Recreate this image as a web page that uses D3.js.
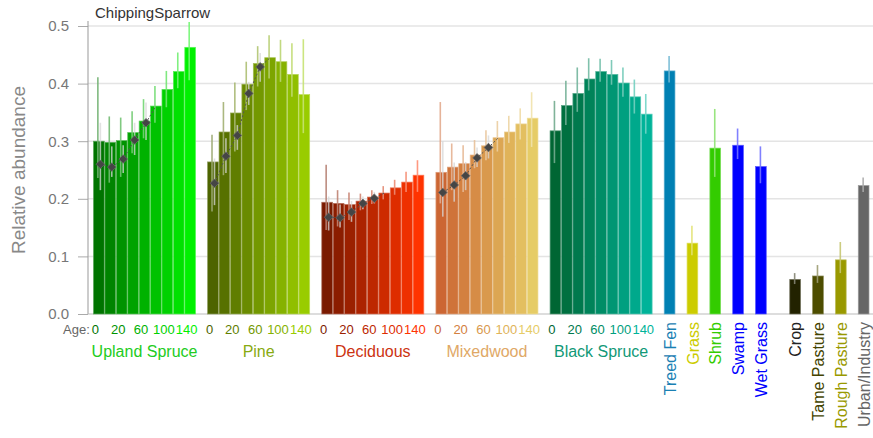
<!DOCTYPE html>
<html><head><meta charset="utf-8">
<script src="https://cdn.jsdelivr.net/npm/d3@7"></script>
<style>
html,body{margin:0;padding:0;background:#fff;}
svg{display:block;font-family:"Liberation Sans",Arial,sans-serif;}
</style></head>
<body><svg id="chart" width="873" height="438"></svg>
<script>
// ---------- data ----------
const title = "ChippingSparrow";
const yLabel = "Relative abundance";
const yTicks = [0, 0.1, 0.2, 0.3, 0.4, 0.5];
const ageLabels = ["0", "20", "60", "100", "140"];
const ageLabelBars = [0, 2, 4, 6, 8];

const forestNames = ["Upland Spruce", "Pine", "Deciduous", "Mixedwood", "Black Spruce"];

const uplandVals = [0.300, 0.298, 0.301, 0.315, 0.335, 0.361, 0.390, 0.421, 0.463];
const uplandLo   = [0.236, 0.228, 0.238, 0.279, 0.305, 0.332, 0.359, 0.392, 0.406];
const uplandHi   = [0.411, 0.343, 0.341, 0.352, 0.373, 0.396, 0.422, 0.454, 0.507];
const uplandDiam   = [0.260, 0.255, 0.269, 0.302, 0.332];
const uplandDiamLo = [0.215, 0.238, 0.245, 0.276, 0.302];
const uplandDiamHi = [0.332, 0.291, 0.293, 0.332, 0.367];

const pineVals = [0.264, 0.316, 0.349, 0.399, 0.435, 0.445, 0.438, 0.416, 0.381];
const pineLo   = [0.178, 0.241, 0.282, 0.354, 0.395, 0.409, 0.403, 0.377, 0.314];
const pineHi   = [0.311, 0.368, 0.402, 0.438, 0.465, 0.484, 0.476, 0.470, 0.477];
const pineDiam   = [0.227, 0.274, 0.310, 0.383, 0.429];
const pineDiamLo = [0.189, 0.245, 0.285, 0.363, 0.403];
const pineDiamHi = [0.270, 0.305, 0.328, 0.403, 0.453];

const decidVals = [0.194, 0.192, 0.190, 0.196, 0.203, 0.210, 0.219, 0.229, 0.241];
const decidLo   = [0.146, 0.152, 0.163, 0.180, 0.191, 0.199, 0.207, 0.212, 0.212];
const decidHi   = [0.259, 0.215, 0.211, 0.209, 0.215, 0.222, 0.233, 0.247, 0.267];
const decidDiam   = [0.168, 0.167, 0.177, 0.192, 0.201];
const decidDiamLo = [0.145, 0.150, 0.160, 0.182, 0.192];
const decidDiamHi = [0.204, 0.190, 0.196, 0.204, 0.212];

const mixedVals = [0.246, 0.255, 0.261, 0.276, 0.292, 0.306, 0.316, 0.330, 0.340];
const mixedLo   = [0.192, 0.215, 0.212, 0.253, 0.267, 0.282, 0.297, 0.303, 0.290];
const mixedHi   = [0.368, 0.296, 0.293, 0.302, 0.319, 0.335, 0.344, 0.357, 0.385];
const mixedDiam   = [0.211, 0.224, 0.240, 0.271, 0.289];
const mixedDiamLo = [0.169, 0.195, 0.215, 0.255, 0.270];
const mixedDiamHi = [0.300, 0.263, 0.264, 0.289, 0.310];

const blackVals = [0.318, 0.362, 0.383, 0.408, 0.421, 0.416, 0.401, 0.377, 0.347];
const blackLo   = [0.262, 0.328, 0.351, 0.388, 0.403, 0.398, 0.377, 0.348, 0.313];
const blackHi   = [0.370, 0.405, 0.428, 0.444, 0.443, 0.441, 0.428, 0.407, 0.382];

const otherNames = ["Treed Fen", "Grass", "Shrub", "Swamp", "Wet Grass", "Crop", "Tame Pasture", "Rough Pasture", "Urban/Industry"];
const otherVals  = [0.422, 0.123, 0.288, 0.293, 0.256, 0.060, 0.066, 0.094, 0.223];
const otherLo    = [0.402, 0.102, 0.238, 0.269, 0.227, 0.052, 0.054, 0.071, 0.212];
const otherHi    = [0.448, 0.153, 0.356, 0.322, 0.291, 0.071, 0.085, 0.125, 0.237];

// ---------- styles ----------
const forestColorEnds = [["#007400", "#00f000"], ["#4d6400", "#99cc00"], ["#7a1a00", "#ff3300"], ["#cc6633", "#e6cc66"], ["#006633", "#00b399"]];
const forestLabelColors = ["#22cc22", "#88aa11", "#cc3311", "#e0a866", "#119977"];
const otherColors = ["#0080b3", "#cccc00", "#33cc00", "#0000ff", "#0000ff", "#222200", "#4d4d00", "#999900", "#666666"];
const otherLabelColors = ["#1a80b3", "#cccc00", "#33cc00", "#0000ff", "#0000ff", "#222222", "#444400", "#999900", "#666666"];

const forests = [
  {vals: uplandVals, lo: uplandLo, hi: uplandHi, dv: uplandDiam, dlo: uplandDiamLo, dhi: uplandDiamHi},
  {vals: pineVals, lo: pineLo, hi: pineHi, dv: pineDiam, dlo: pineDiamLo, dhi: pineDiamHi},
  {vals: decidVals, lo: decidLo, hi: decidHi, dv: decidDiam, dlo: decidDiamLo, dhi: decidDiamHi},
  {vals: mixedVals, lo: mixedLo, hi: mixedHi, dv: mixedDiam, dlo: mixedDiamLo, dhi: mixedDiamHi},
  {vals: blackVals, lo: blackLo, hi: blackHi, dv: null}
];

// ---------- build slot domain (spacers between groups) ----------
const slots = [];
forests.forEach((f, gi) => {
  f.vals.forEach((v, j) => slots.push("f" + gi + "_" + j));
  slots.push("sp_f" + gi);
});
otherNames.forEach((n, i) => {
  slots.push("o" + i);
  if (i < otherNames.length - 1) slots.push("sp_o" + i);
  if (n === "Wet Grass") slots.push("sp_extra");
});

const svg = d3.select("#chart");
const x = d3.scaleBand().domain(slots).range([93.5, 869]).paddingInner(0.06).paddingOuter(0);
const y = d3.scaleLinear().domain([0, 0.5]).range([314, 26]);
const cx = k => x(k) + x.bandwidth() / 2;

// gridlines
svg.append("g").selectAll("line").data(yTicks.filter(t => t > 0)).join("line")
  .attr("x1", 88).attr("x2", 873).attr("y1", d => y(d)).attr("y2", d => y(d))
  .attr("stroke", "#e4e4e4").attr("stroke-width", 1.5);

// y axis
const yAxis = d3.axisLeft(y).tickValues(yTicks).tickFormat(d3.format(".1f")).tickSize(10).tickPadding(9);
const ga = svg.append("g").attr("transform", "translate(88,0)").call(yAxis);
ga.select(".domain").remove();
ga.selectAll(".tick line").attr("stroke", "#aaa");
ga.selectAll(".tick text").attr("fill", "#777").attr("font-size", 15).attr("font-family", "Liberation Sans, Arial, sans-serif");
svg.append("line").attr("x1", 88).attr("x2", 88).attr("y1", 21).attr("y2", y(0)).attr("stroke", "#999").attr("stroke-width", 1);
svg.append("line").attr("x1", 88).attr("x2", 873).attr("y1", y(0)).attr("y2", y(0)).attr("stroke", "#bbb").attr("stroke-width", 1);

const lighten = (c, t) => d3.interpolateRgb(c, "#ffffff")(t);

// forest groups
forests.forEach((f, gi) => {
  const g = svg.append("g");
  const cols = f.vals.map((v, j) => d3.interpolateRgb(forestColorEnds[gi][0], forestColorEnds[gi][1])(j / (f.vals.length - 1)));
  const keys = f.vals.map((v, j) => "f" + gi + "_" + j);
  g.selectAll("rect").data(f.vals).join("rect")
    .attr("x", (d, j) => x(keys[j])).attr("width", x.bandwidth())
    .attr("y", d => y(d)).attr("height", d => y(0) - y(d))
    .attr("fill", (d, j) => cols[j])
    .attr("stroke", (d, j) => lighten(cols[j], 0.35)).attr("stroke-width", 0.7);
  g.selectAll("line.err").data(f.vals).join("line").attr("class", "err")
    .attr("x1", (d, j) => cx(keys[j]) - 1).attr("x2", (d, j) => cx(keys[j]) - 1)
    .attr("y1", (d, j) => y(f.lo[j])).attr("y2", (d, j) => y(f.hi[j]))
    .attr("stroke", (d, j) => lighten(cols[j], 0.45)).attr("stroke-width", 1.6).attr("opacity", 0.9);
  if (f.dv) {
    g.selectAll("line.derr").data(f.dv).join("line").attr("class", "derr")
      .attr("x1", (d, j) => cx(keys[j]) + 1.5).attr("x2", (d, j) => cx(keys[j]) + 1.5)
      .attr("y1", (d, j) => y(f.dlo[j])).attr("y2", (d, j) => y(f.dhi[j]))
      .attr("stroke", "#d8d8d8").attr("stroke-width", 1.6).attr("opacity", 0.75);
    const pts = f.dv.map((d, j) => [cx(keys[j]) + 1.5, y(d)]);
    pts.push([cx(keys[5]), y(f.vals[5])]);
    g.append("path").attr("d", d3.line()(pts)).attr("fill", "none")
      .attr("stroke", "#555").attr("stroke-width", 1).attr("stroke-dasharray", "2,2");
    g.selectAll("path.dm").data(f.dv).join("path").attr("class", "dm")
      .attr("transform", (d, j) => `translate(${cx(keys[j]) + 1.5},${y(d)})`)
      .attr("d", "M0,-4.3L4.3,0L0,4.3L-4.3,0Z")
      .attr("fill", "#454545").attr("stroke", "#666").attr("stroke-width", 0.8);
  }
  // age labels
  g.selectAll("text.age").data(ageLabels).join("text").attr("class", "age")
    .attr("x", (d, k) => cx(keys[ageLabelBars[k]]) - 3.5).attr("y", 334)
    .attr("text-anchor", "middle").attr("font-size", 13)
    .attr("fill", (d, k) => cols[ageLabelBars[k]]).text(d => d);
  // group label
  g.append("text").attr("x", (cx(keys[0]) + cx(keys[8])) / 2).attr("y", 357)
    .attr("text-anchor", "middle").attr("font-size", 16).attr("fill", forestLabelColors[gi])
    .text(forestNames[gi]);
});

svg.append("text").attr("x", 63).attr("y", 334).attr("font-size", 13).attr("fill", "#666").text("Age:");

// other categories
const og = svg.append("g");
const okeys = otherNames.map((n, i) => "o" + i);
og.selectAll("rect").data(otherVals).join("rect")
  .attr("x", (d, i) => x(okeys[i])).attr("width", x.bandwidth())
  .attr("y", d => y(d)).attr("height", d => y(0) - y(d))
  .attr("fill", (d, i) => otherColors[i])
  .attr("stroke", (d, i) => lighten(otherColors[i], 0.35)).attr("stroke-width", 0.7);
og.selectAll("line").data(otherVals).join("line")
  .attr("x1", (d, i) => cx(okeys[i]) - 0.5).attr("x2", (d, i) => cx(okeys[i]) - 0.5)
  .attr("y1", (d, i) => y(otherLo[i])).attr("y2", (d, i) => y(otherHi[i]))
  .attr("stroke", (d, i) => lighten(otherColors[i], 0.45)).attr("stroke-width", 1.6).attr("opacity", 0.9);
og.selectAll("text").data(otherNames).join("text")
  .attr("transform", (d, i) => `translate(${cx(okeys[i]) + 0.5},322) rotate(-90)`)
  .attr("text-anchor", "end").attr("dy", "0.35em").attr("font-size", 16)
  .attr("fill", (d, i) => otherLabelColors[i]).text(d => d);

// titles
svg.append("text").attr("x", 95).attr("y", 18).attr("font-size", 15).attr("fill", "#333").text(title);
svg.append("text").attr("transform", "translate(25,170) rotate(-90)").attr("text-anchor", "middle")
  .attr("font-size", 19).attr("fill", "#888").text(yLabel);
</script>
</body></html>
